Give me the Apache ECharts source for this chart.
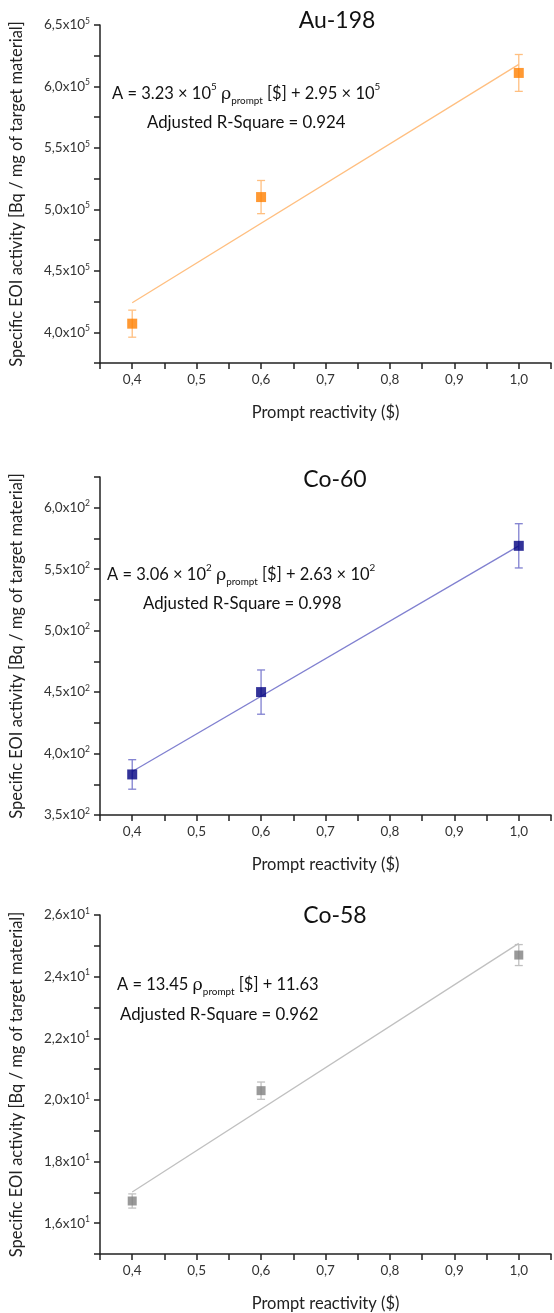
<!DOCTYPE html>
<html>
<head>
<meta charset="utf-8">
<script src="https://cdn.jsdelivr.net/npm/echarts@6/dist/echarts.min.js"></script>
<style>
html,body{margin:0;padding:0;background:#fff;}
#c{width:554px;height:1313px;}
</style>
</head>
<body>
<div id="c"></div>
<script>
// ---- data ----
const reactivity = [0.4, 0.6, 1.0];
const au198 = [4.07e5, 5.10e5, 6.11e5];
const au198Err = [1.1e4, 1.35e4, 1.5e4];
const au198FitX = [0.4, 1.0];
const au198FitY = [4.24e5, 6.18e5];
const co60 = [383, 450, 569];
const co60Err = [12, 18, 18];
const co60FitX = [0.4, 1.0];
const co60FitY = [385.4, 569];
const co58 = [16.72, 20.3, 24.7];
const co58Err = [0.23, 0.28, 0.34];
const co58FitX = [0.4, 1.0];
const co58FitY = [17.01, 25.08];
const titles = ['Au-198', 'Co-60', 'Co-58'];
const eqAu = ['A = 3.23 × 10', '5', 'ρ', 'prompt', ' [$] + 2.95 × 10', '5'];
const eqCo60 = ['A = 3.06 × 10', '2', 'ρ', 'prompt', ' [$] + 2.63 × 10', '2'];
const eqCo58 = ['A = 13.45 ', 'ρ', 'prompt', ' [$] + 11.63'];
const r2 = ['Adjusted R-Square = 0.924', 'Adjusted R-Square = 0.998', 'Adjusted R-Square = 0.962'];
const xName = 'Prompt reactivity ($)';
const yName = 'Specific EOI activity [Bq / mg of target material]';

const FONT = 'Lato, "Open Sans", sans-serif';
const chart = echarts.init(document.getElementById('c'), null, {renderer:'canvas'});

const grids = [
  {left:97, right:0, top:25, height:338},
  {left:97, right:0, top:477, height:338},
  {left:97, right:0, top:915, height:341}
];
const yCfg = [
  {min:3.75e5, max:6.5e5, interval:0.25e5, scale:1e5, exp:'5', step:50},
  {min:350, max:625, interval:25, scale:1e2, exp:'2', step:50},
  {min:15, max:26, interval:1, scale:1e1, exp:'1', step:20}
];
const colors = [
  {mark:'#ff7f00', line:'#ffbf80'},
  {mark:'#000080', line:'#8080d0'},
  {mark:'#808080', line:'#c0c0c0'}
];

const xAxes = grids.map((g,i)=>({
  type:'value', gridIndex:i, min:0.35, max:1.05, interval:0.05,
  name:xName, nameLocation:'middle', nameGap:41,
  nameTextStyle:{fontFamily:FONT, fontSize:16.5, color:'#222'},
  axisLine:{show:true, onZero:false, lineStyle:{color:'#222', width:1.5}},
  axisTick:{show:true, inside:false, length:6, lineStyle:{color:'#222', width:1.5}},
  splitLine:{show:false},
  axisLabel:{fontFamily:FONT, fontSize:13.5, color:'#333', margin:10,
    formatter:function(v){const k=Math.round(v*100); return k%10===0 ? (k/100).toFixed(1).replace('.',',') : '';}}
}));
const yAxes = yCfg.map((c,i)=>({
  type:'value', gridIndex:i, min:c.min, max:c.max, interval:c.interval,
  name:yName, nameLocation:'middle', nameGap:75, nameRotate:90,
  nameTextStyle:{fontFamily:FONT, fontSize:16.5, color:'#222'},
  axisLine:{show:true, onZero:false, lineStyle:{color:'#222', width:1.5}},
  axisTick:{show:true, inside:false, length:6, lineStyle:{color:'#222', width:1.5}},
  splitLine:{show:false},
  axisLabel:{fontFamily:FONT, color:'#333', margin:10,
    rich:{a:{fontFamily:FONT, fontSize:13.5, color:'#333', lineHeight:17},
          s:{fontFamily:FONT, fontSize:8.5, color:'#333', lineHeight:9, verticalAlign:'top'}},
    formatter:function(v){
      const k=Math.round(v/c.scale*100);
      if(k%c.step!==0 || (i===2 && k===150)) return '';
      return '{a|'+(k/100).toFixed(1).replace('.',',')+'x10}{s|'+c.exp+'}';
    }}
}));

function errSeries(i, vals, errs){
  const col = colors[i].line;
  return {
    type:'custom', xAxisIndex:i, yAxisIndex:i, silent:true, z:2,
    data: reactivity.map((x,j)=>[x, vals[j]-errs[j], vals[j]+errs[j]]),
    renderItem:function(params, api){
      const x=api.value(0), lo=api.value(1), hi=api.value(2);
      const p1=api.coord([x,hi]), p2=api.coord([x,lo]); const w=4;
      const st={stroke:col, lineWidth:1.3};
      return {type:'group', children:[
        {type:'line', shape:{x1:p1[0], y1:p1[1], x2:p2[0], y2:p2[1]}, style:st},
        {type:'line', shape:{x1:p1[0]-w, y1:p1[1], x2:p1[0]+w, y2:p1[1]}, style:st},
        {type:'line', shape:{x1:p2[0]-w, y1:p2[1], x2:p2[0]+w, y2:p2[1]}, style:st}
      ]};
    }
  };
}
function fitSeries(i, fx, fy){
  return {type:'line', xAxisIndex:i, yAxisIndex:i, silent:true, z:3, symbol:'none',
    data: fx.map((x,j)=>[x, fy[j]]),
    lineStyle:{color:colors[i].line, width:1.3}};
}
function markSeries(i, vals, size){
  return {type:'scatter', xAxisIndex:i, yAxisIndex:i, silent:true, z:4, symbol:'rect', symbolSize:size,
    data: reactivity.map((x,j)=>[x, vals[j]]),
    itemStyle:{color:colors[i].mark}};
}

function makeRich(fs){
  return {
    b:{fontFamily:FONT, fontSize:fs, color:'#111', lineHeight:24},
    p:{fontFamily:'"DejaVu Serif", serif', fontSize:fs+1, color:'#111', lineHeight:24},
    sup:{fontFamily:FONT, fontSize:fs*0.6, color:'#111', lineHeight:11, verticalAlign:'top'},
    sub:{fontFamily:FONT, fontSize:fs*0.6, color:'#111', lineHeight:11, verticalAlign:'bottom'}
  };
}
function eqText(parts){
  if(parts.length===6){
    return '{b|'+parts[0]+'}{sup|'+parts[1]+'}{b| }{p|'+parts[2]+'}{sub|'+parts[3]+'}{b|'+parts[4]+'}{sup|'+parts[5]+'}';
  }
  return '{b|'+parts[0]+'}{p|'+parts[1]+'}{sub|'+parts[2]+'}{b|'+parts[3]+'}';
}
function txt(x, y, text, size, align){
  return {type:'text', x:x, y:y, silent:true, z:10,
    style:{text:text, fontFamily:FONT, fontSize:size, fill:'#111', align:align||'left', verticalAlign:'middle', rich:makeRich(size)}};
}

const graphic = [
  txt(337, 21, titles[0], 23, 'center'),
  txt(335, 480, titles[1], 23, 'center'),
  txt(335, 916, titles[2], 23, 'center'),
  txt(112, 94, eqText(eqAu), 16.5),
  txt(147, 123, r2[0], 16.8),
  txt(107, 575, eqText(eqCo60), 16.5),
  txt(143, 604, r2[1], 16.8),
  txt(117, 985, eqText(eqCo58), 16.5),
  txt(120, 1015, r2[2], 16.8)
];

chart.setOption({
  animation:false,
  backgroundColor:'#fff',
  grid:grids,
  xAxis:xAxes,
  yAxis:yAxes,
  graphic:graphic,
  series:[
    errSeries(0, au198, au198Err), fitSeries(0, au198FitX, au198FitY), markSeries(0, au198, 10),
    errSeries(1, co60, co60Err), fitSeries(1, co60FitX, co60FitY), markSeries(1, co60, 10),
    errSeries(2, co58, co58Err), fitSeries(2, co58FitX, co58FitY), markSeries(2, co58, 9)
  ]
});
</script>
</body>
</html>
